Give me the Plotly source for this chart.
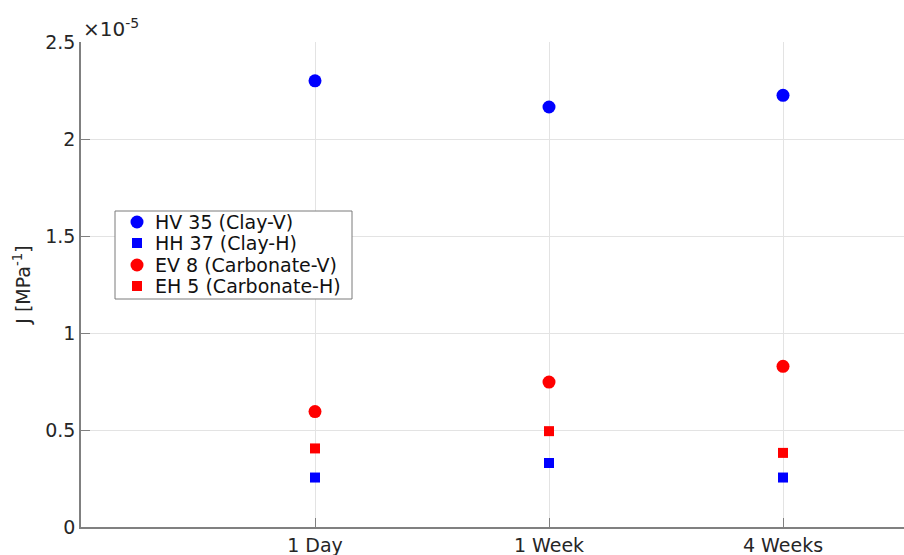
import plotly.graph_objects as go

# Creep compliance J [MPa^-1] at three loading durations
periods = ["1 Day", "1 Week", "4 Weeks"]
period_pos = [1, 2, 3]

hv35_clay_v = [2.30e-5, 2.165e-5, 2.225e-5]
hh37_clay_h = [0.255e-5, 0.33e-5, 0.255e-5]
ev8_carb_v = [0.595e-5, 0.747e-5, 0.828e-5]
eh5_carb_h = [0.405e-5, 0.494e-5, 0.382e-5]

y_ticks = [0, 0.5e-5, 1.0e-5, 1.5e-5, 2.0e-5, 2.5e-5]
y_tick_text = ["0", "0.5", "1", "1.5", "2", "2.5"]

series = [
    ("HV 35 (Clay-V)", hv35_clay_v, "blue", "circle", 13),
    ("HH 37 (Clay-H)", hh37_clay_h, "blue", "square", 10),
    ("EV 8 (Carbonate-V)", ev8_carb_v, "red", "circle", 13),
    ("EH 5 (Carbonate-H)", eh5_carb_h, "red", "square", 10),
]

FONT = "DejaVu Sans, Liberation Sans, Arial, sans-serif"
TXT = "#262626"

W, H = 904, 555
ml, mt, mb, mr = 81, 42, 28, 0
pw, ph = W - ml - mr, H - mt - mb
step = 234.0  # pixels per category unit


def px_x(p):
    return (p - ml) / pw


def px_y(p):
    return (H - mb - p) / ph


fig = go.Figure()
for name, vals, color, symbol, size in series:
    fig.add_trace(go.Scatter(
        x=period_pos, y=vals, mode="markers", name=name,
        marker=dict(color=color, symbol=symbol, size=size, line=dict(width=0)),
        showlegend=False,
    ))

axis_font = dict(family=FONT, size=19, color=TXT)

fig.update_layout(
    width=W, height=H,
    margin=dict(l=ml, r=mr, t=mt, b=mb, pad=0),
    paper_bgcolor="white", plot_bgcolor="white",
    font=axis_font,
    showlegend=False,
    xaxis=dict(
        range=[0, pw / step], tickvals=period_pos, ticktext=periods,
        showgrid=True, gridcolor="#e3e3e3", gridwidth=1, zeroline=False,
        showline=True, linecolor="#808080", linewidth=1.5, mirror=False,
        ticks="inside", ticklen=9, tickcolor="#808080", tickwidth=1,
        tickfont=axis_font,
    ),
    yaxis=dict(
        range=[0, 2.5e-5], tickvals=y_ticks, ticktext=y_tick_text,
        showgrid=True, gridcolor="#e3e3e3", gridwidth=1, zeroline=False,
        showline=True, linecolor="#808080", linewidth=1.5, mirror=False,
        ticks="inside", ticklen=9, tickcolor="#808080", tickwidth=1,
        tickfont=axis_font,
        title=dict(text="J [MPa<sup>-1</sup>]", font=dict(family=FONT, size=19, color=TXT), standoff=10),
    ),
)

# Exponent multiplier shown above the y-axis
fig.add_annotation(
    xref="paper", yref="paper", x=0, y=1, xanchor="left", yanchor="bottom",
    yshift=-1, xshift=0, showarrow=False,
    text="×10<sup>-5</sup>", font=dict(family=FONT, size=20, color=TXT),
)

# Boxed legend in the upper-left region of the axes
box_l, box_r, box_t, box_b = 115, 352, 211, 299
fig.add_shape(
    type="rect", xref="paper", yref="paper",
    x0=px_x(box_l), x1=px_x(box_r), y0=px_y(box_b), y1=px_y(box_t),
    line=dict(color="#7a7a7a", width=1), fillcolor="white", layer="above",
)
row_y = [222, 243, 265, 286]
sym_x = 137
for (name, _, color, symbol, size), ry in zip(series, row_y):
    half = (13 if symbol == "circle" else 10) / 2
    fig.add_shape(
        type="circle" if symbol == "circle" else "rect",
        xref="paper", yref="paper",
        x0=px_x(sym_x - half), x1=px_x(sym_x + half),
        y0=px_y(ry + half), y1=px_y(ry - half),
        line=dict(width=0), fillcolor=color, layer="above",
    )
    fig.add_annotation(
        xref="paper", yref="paper", x=px_x(153), y=px_y(ry),
        xanchor="left", yanchor="middle", showarrow=False,
        text=name, font=dict(family=FONT, size=19, color="#111111"),
    )

fig.write_html("out.html")
